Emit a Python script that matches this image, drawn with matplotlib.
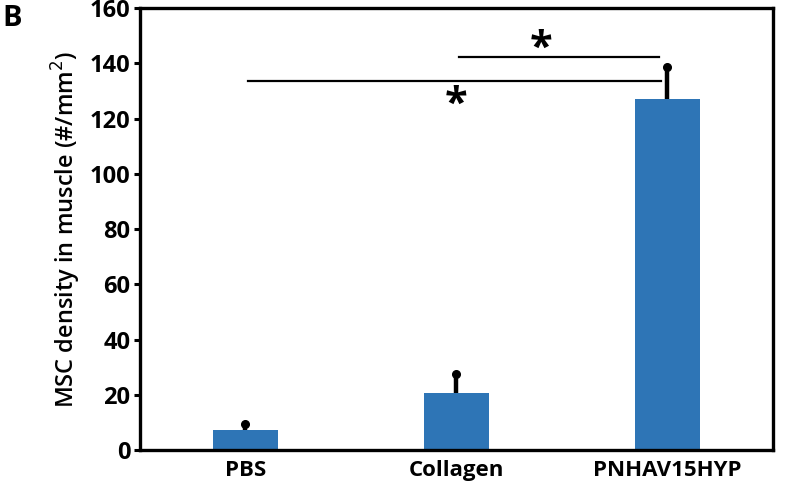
import numpy as np
from matplotlib import pyplot as plt

plt.rcParams['font.family'] = ['Open Sans', 'DejaVu Sans']

groups = ['PBS', 'Collagen', 'PNHAV15HYP']
density = [7.2, 20.8, 127.0]
sem = [2.3, 6.7, 11.7]

# significance brackets: (start group, end group, line height, star x, star y)
sig_lines = [(1.01, 1.96, 142.4, 1.40, 145.0),
             (0.01, 1.97, 133.6, 1.00, 124.6)]

bar_color = '#2E75B6'

fig = plt.figure(figsize=(8, 4.86), dpi=100)
ax = fig.add_axes([0.175, 0.074, 0.791, 0.9095])

x = np.arange(len(groups))
ax.bar(x, density, width=0.31, color=bar_color, zorder=2)
ax.errorbar(x, density, yerr=[np.zeros(len(sem)), sem], fmt='none',
            ecolor='black', elinewidth=3.2, capsize=0, zorder=3)
ax.plot(x, np.array(density) + np.array(sem), 'o', color='black',
        markersize=5.5, zorder=3)

for x0, x1, h, sx, sy in sig_lines:
    ax.plot([x0, x1], [h, h], color='black', linewidth=1.6)
    ax.text(sx, sy, '*', ha='center', va='center', fontsize=30,
            fontweight='bold')

ax.set_xlim(-0.5, 2.5)
ax.set_ylim(0, 160)
ax.set_yticks(np.arange(0, 161, 20))
ax.set_xticks(x)
ax.set_xticklabels(groups, fontsize=16, fontweight='bold')
for lab in ax.get_yticklabels():
    lab.set_fontsize(17)
    lab.set_fontweight('bold')
ax.tick_params(axis='y', direction='out', length=4, width=2.2, pad=3)
ax.tick_params(axis='x', length=0, pad=7)
for sp in ax.spines.values():
    sp.set_linewidth(2.4)

ax.set_ylabel('MSC density in muscle (#/mm$^2$)', fontsize=17,
              fontweight='semibold', labelpad=5)
fig.text(0.003, 0.962, 'B', fontsize=21, fontweight='bold', va='center')

plt.savefig('out.png', dpi=100)
